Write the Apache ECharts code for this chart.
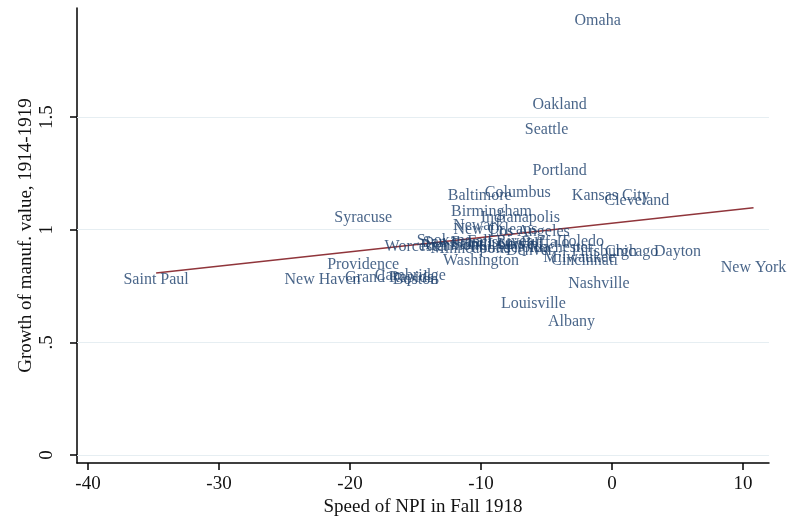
<!DOCTYPE html>
<html>
<head>
<meta charset="utf-8">
<script src="https://cdn.jsdelivr.net/npm/echarts@6/dist/echarts.min.js"></script>
<style>
  html, body { margin: 0; padding: 0; background: #fff; }
  #chart { width: 789px; height: 518px; }
</style>
</head>
<body>
<div id="chart"></div>
<script>
// city names, speed of NPI (x) and growth of manuf. value (y)
const cities = [
  'Omaha', 'Oakland', 'Seattle', 'Portland', 'Baltimore', 'Columbus', 'Kansas City', 'Cleveland',
  'Syracuse', 'Birmingham', 'Indianapolis', 'Newark', 'New Orleans', 'Los Angeles',
  'Worcester', 'Providence', 'New Haven', 'Grand Rapids', 'Cambridge', 'Boston', 'Saint Paul',
  'Washington', 'Cincinnati', 'Nashville', 'Louisville', 'Albany', 'Chicago', 'Dayton', 'New York',
  'Spokane', 'San Francisco', 'Fall River', 'Lowell', 'Philadelphia', 'Buffalo', 'Toledo',
  'Rochester', 'Minneapolis', 'Milwaukee', 'Pittsburgh', 'Denver', 'Richmond', 'Saint Louis'
]
const speed = [
  -1.1, -4.0, -5.0, -4.0, -10.1, -7.2, -0.1, 1.9,
  -19.0, -9.2, -7.0, -10.2, -8.9, -6.3,
  -14.9, -19.0, -22.1, -17.0, -15.4, -15.0, -34.8,
  -10.0, -2.1, -1.0, -6.0, -3.1, 1.5, 5.0, 10.8,
  -12.8, -11.0, -8.6, -7.0, -7.8, -5.1, -2.3,
  -3.9, -10.8, -2.5, -0.6, -6.3, -12.1, -9.5
]
const growth = [
  1.925, 1.556, 1.444, 1.262, 1.151, 1.164, 1.15, 1.13,
  1.053, 1.08, 1.053, 1.018, 1.0, 0.99,
  0.924, 0.845, 0.778, 0.787, 0.797, 0.778, 0.778,
  0.862, 0.86, 0.76, 0.671, 0.591, 0.902, 0.902, 0.832,
  0.951, 0.942, 0.946, 0.933, 0.92, 0.94, 0.945,
  0.92, 0.915, 0.876, 0.904, 0.908, 0.93, 0.935
]
// fitted line end points
const fitX = [-34.8, 10.8]
const fitY = [0.808, 1.097]
const xTicks = [-40, -30, -20, -10, 0, 10]
const yTicks = [0, 0.5, 1, 1.5]

const font = 'Liberation Serif'
const chart = echarts.init(document.getElementById('chart'))

const option = {
  animation: false,
  backgroundColor: '#fff',
  grid: { left: 77, right: 20, top: 8, bottom: 55, outerBoundsMode: 'none' },
  xAxis: {
    type: 'value',
    min: -40.84,
    max: 11.98,
    name: 'Speed of NPI in Fall 1918',
    nameLocation: 'middle',
    nameGap: 35,
    nameMoveOverlap: false,
    nameTextStyle: { fontFamily: font, fontSize: 19, color: '#111' },
    axisLine: { onZero: false, lineStyle: { color: '#000', width: 1.5 } },
    axisTick: { show: true, length: 7, customValues: xTicks, lineStyle: { color: '#000', width: 1.5 } },
    axisLabel: { customValues: xTicks, margin: 12, fontFamily: font, fontSize: 19, color: '#111' },
    splitLine: { show: false },
  },
  yAxis: {
    type: 'value',
    min: -0.0355,
    max: 1.984,
    name: 'Growth of manuf. value, 1914-1919',
    nameLocation: 'middle',
    nameGap: 41,
    nameMoveOverlap: false,
    nameTextStyle: { fontFamily: font, fontSize: 19, color: '#111' },
    axisLine: { onZero: false, lineStyle: { color: '#000', width: 1.5 } },
    axisTick: { show: true, length: 7, customValues: yTicks, lineStyle: { color: '#000', width: 1.5 } },
    axisLabel: {
      customValues: yTicks,
      rotate: 90,
      margin: 20,
      fontFamily: font,
      fontSize: 19,
      color: '#111',
      formatter: (v) => (v === 0.5 ? '.5' : String(v)),
    },
    splitLine: { show: false },
  },
  series: [
    {
      type: 'line',
      data: fitX.map((x, i) => [x, fitY[i]]),
      symbol: 'none',
      lineStyle: { color: '#90353b', width: 1.5 },
      z: 3,
      markLine: {
        silent: true,
        symbol: 'none',
        label: { show: false },
        lineStyle: { color: '#e6eef2', width: 1, type: 'solid' },
        data: yTicks.map((v) => ({ yAxis: v })),
        z: 1,
      },
    },
    {
      type: 'scatter',
      symbolSize: 0,
      data: cities.map((c, i) => [speed[i], growth[i], c]),
      label: {
        show: true,
        position: 'inside',
        formatter: (p) => p.data[2],
        fontFamily: font,
        fontSize: 16,
        color: '#1c3f6b',
      },
      labelLayout: { hideOverlap: false },
      z: 4,
    },
  ],
}

chart.setOption(option)
</script>
</body>
</html>
